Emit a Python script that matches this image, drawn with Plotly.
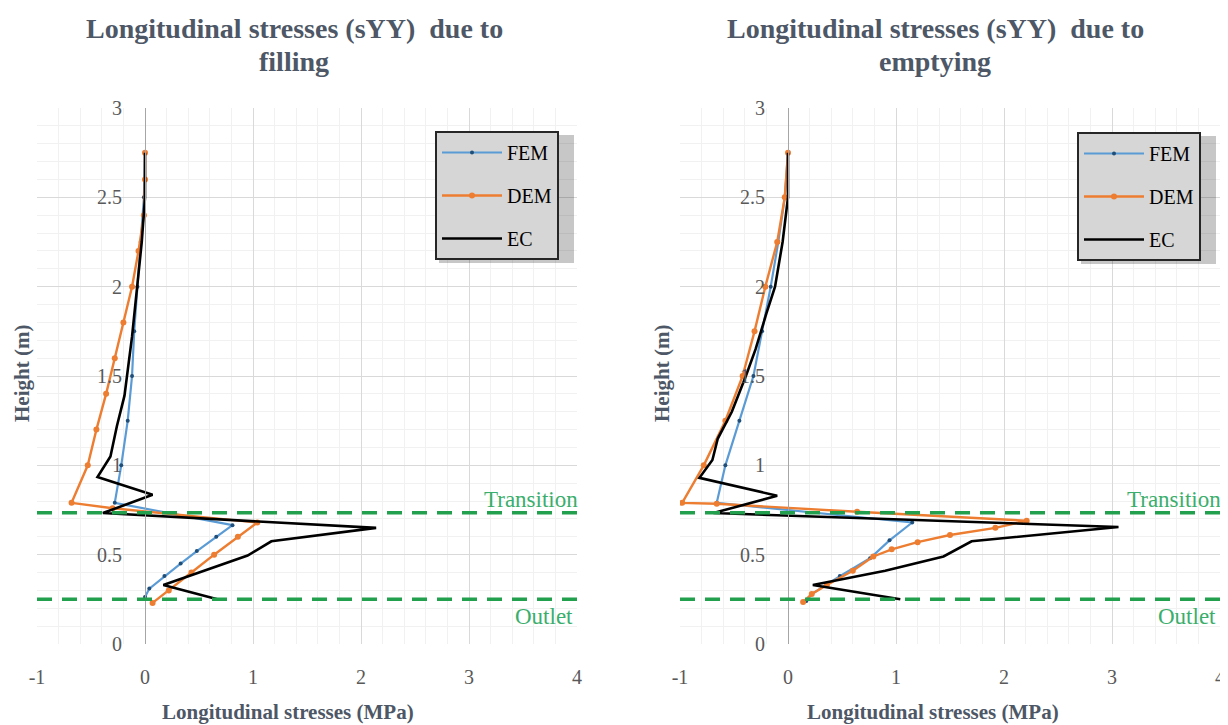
import plotly.graph_objects as go

# ---------------- data ----------------
# Filling (left)
fem_fill_y = [2.75, 2.5, 2.25, 2.0, 1.75, 1.5, 1.25, 1.0, 0.79, 0.665, 0.6, 0.52, 0.45, 0.38, 0.31, 0.263]
fem_fill_x = [0.0, -0.01, -0.04, -0.07, -0.10, -0.12, -0.16, -0.22, -0.28, 0.81, 0.66, 0.48, 0.33, 0.18, 0.04, 0.0]

dem_fill_y = [2.75, 2.6, 2.4, 2.2, 2.0, 1.8, 1.6, 1.4, 1.2, 1.0, 0.79, 0.76, 0.68, 0.6, 0.5, 0.4, 0.3, 0.23]
dem_fill_x = [0.0, 0.0, -0.01, -0.06, -0.12, -0.20, -0.28, -0.36, -0.45, -0.53, -0.68, -0.30, 1.04, 0.86, 0.64, 0.43, 0.22, 0.07]

ec_fill_y = [2.75, 2.5, 2.25, 2.0, 1.72, 1.39, 1.22, 1.05, 0.935, 0.835, 0.733, 0.65, 0.575, 0.495, 0.33, 0.25]
ec_fill_x = [0.0, 0.0, -0.03, -0.07, -0.12, -0.19, -0.26, -0.32, -0.44, 0.07, -0.39, 2.14, 1.17, 0.95, 0.17, 0.67]

# Emptying (right)
fem_emp_y = [2.75, 2.5, 2.25, 2.0, 1.75, 1.5, 1.25, 1.0, 0.79, 0.68, 0.58, 0.48, 0.38, 0.28, 0.24]
fem_emp_x = [0.0, -0.03, -0.09, -0.16, -0.24, -0.32, -0.45, -0.58, -0.66, 1.15, 0.94, 0.76, 0.48, 0.22, 0.17]

dem_emp_y = [2.75, 2.5, 2.25, 2.0, 1.75, 1.5, 1.25, 1.0, 0.79, 0.785, 0.74, 0.69, 0.65, 0.61, 0.57, 0.53, 0.49, 0.41, 0.33, 0.28, 0.235]
dem_emp_x = [0.0, -0.03, -0.10, -0.21, -0.31, -0.42, -0.58, -0.78, -0.98, -0.66, 0.64, 2.21, 1.92, 1.50, 1.20, 0.96, 0.79, 0.60, 0.36, 0.22, 0.14]

ec_emp_y = [2.75, 2.5, 2.25, 2.0, 1.85, 1.65, 1.5, 1.3, 1.15, 1.03, 0.93, 0.83, 0.733, 0.655, 0.575, 0.49, 0.41, 0.33, 0.25]
ec_emp_x = [0.0, 0.0, -0.05, -0.12, -0.20, -0.30, -0.39, -0.52, -0.65, -0.70, -0.82, -0.10, -0.69, 3.06, 1.70, 1.44, 0.90, 0.23, 1.04]

transition_h = 0.735
outlet_h = 0.25

x_ticks = [-1, 0, 1, 2, 3, 4]
x_tick_text = ["-1", "0", "1", "2", "3", "4"]
y_ticks = [0, 0.5, 1, 1.5, 2, 2.5, 3]
y_tick_text = ["0", "0.5", "1", "1.5", "2", "2.5", "3"]

title_line1 = "Longitudinal stresses (sYY)  due to"
title_line2 = ["filling", "emptying"]
x_title = "Longitudinal stresses (MPa)"
y_title = "Height (m)"

# ---------------- style ----------------
W, H = 1228, 725
OFF = 8  # page body margin offset
SERIF = "Liberation Serif, Times New Roman, serif"
FEM_LINE = "#5b9bd5"
FEM_MARK = "#1f4e79"
DEM_COL = "#ed7d31"
EC_COL = "#000000"
GREEN_LINE = "#22a04e"
GREEN_TEXT = "#3aae6c"
TITLE_COL = "#4d5766"
TICK_COL = "#595959"


def px_x(p):
    return (p - OFF) / W


def px_y(p):
    return 1 - (p - OFF) / H


left_dom = [px_x(37), px_x(577)]
right_dom = [px_x(680), px_x(1220)]
y_dom = [px_y(644), px_y(108)]

fig = go.Figure()

panels = [
    ("x", "y", fem_fill_x, fem_fill_y, dem_fill_x, dem_fill_y, ec_fill_x, ec_fill_y, "legend"),
    ("x2", "y2", fem_emp_x, fem_emp_y, dem_emp_x, dem_emp_y, ec_emp_x, ec_emp_y, "legend2"),
]

for xa, ya, fx, fy, dx, dy, ex, ey, lg in panels:
    fig.add_trace(go.Scatter(x=fx, y=fy, xaxis=xa, yaxis=ya, name="FEM", mode="lines+markers",
                             line=dict(color=FEM_LINE, width=2.2),
                             marker=dict(color=FEM_MARK, size=4),
                             legend=lg, legendgroup="fem" + xa))
    fig.add_trace(go.Scatter(x=dx, y=dy, xaxis=xa, yaxis=ya, name="DEM", mode="lines+markers",
                             line=dict(color=DEM_COL, width=2.4),
                             marker=dict(color=DEM_COL, size=6),
                             legend=lg, legendgroup="dem" + xa))
    fig.add_trace(go.Scatter(x=ex, y=ey, xaxis=xa, yaxis=ya, name="EC", mode="lines",
                             line=dict(color=EC_COL, width=2.6),
                             legend=lg, legendgroup="ec" + xa))


def xaxis_cfg(dom, anchor):
    return dict(domain=dom, anchor=anchor, range=[-1, 4], tickvals=x_ticks, ticktext=x_tick_text,
                showgrid=True, gridcolor="#d9d9d9", gridwidth=1,
                minor=dict(dtick=0.2, showgrid=True, gridcolor="#f1f1f1"),
                zeroline=False, showline=False, ticks="", automargin=False,
                ticklabelstandoff=19,
                tickfont=dict(family=SERIF, size=20, color=TICK_COL))


def yaxis_cfg(pos):
    return dict(domain=y_dom, anchor="free", position=pos, range=[0, 3],
                tickvals=y_ticks, ticktext=y_tick_text,
                showgrid=True, gridcolor="#d9d9d9", gridwidth=1,
                minor=dict(dtick=0.1, showgrid=True, gridcolor="#f1f1f1"),
                zeroline=False, showline=True, linecolor="#a6a6a6", linewidth=1,
                ticks="", ticklabelstandoff=19, automargin=False,
                tickfont=dict(family=SERIF, size=20, color=TICK_COL))


# y-axis sits at x = 0 of each panel
pos_left = left_dom[0] + (0 - (-1)) / 5 * (left_dom[1] - left_dom[0])
pos_right = right_dom[0] + (0 - (-1)) / 5 * (right_dom[1] - right_dom[0])

legend_common = dict(bgcolor="#d6d6d6", bordercolor="#262626", borderwidth=2,
                     font=dict(family=SERIF, size=20, color="#000000"),
                     itemwidth=60, tracegroupgap=14, xanchor="left", yanchor="top",
                     traceorder="grouped")

fig.update_layout(
    width=W, height=H,
    margin=dict(l=0, r=0, t=0, b=0, autoexpand=False),
    paper_bgcolor="white", plot_bgcolor="white",
    xaxis=xaxis_cfg(left_dom, "y"),
    yaxis=yaxis_cfg(pos_left),
    xaxis2=xaxis_cfg(right_dom, "y2"),
    yaxis2=yaxis_cfg(pos_right),
    legend=dict(x=px_x(435), y=px_y(131), **legend_common),
    legend2=dict(x=px_x(1077), y=px_y(132), **legend_common),
    showlegend=True,
)

shapes = []
annotations = []
# legend drop shadows
for (lx0, ly0) in [(435, 131), (1077, 132)]:
    shapes.append(dict(type="rect", xref="paper", yref="paper",
                       x0=px_x(lx0 + 4), x1=px_x(lx0 + 139), y0=px_y(ly0 + 132), y1=px_y(ly0 + 4),
                       fillcolor="rgba(0,0,0,0.22)", line=dict(width=0), layer="above"))

title_cx = [294, 935]
xtitle_cx = [288, 933]
for i, xref in enumerate(["x", "x2"]):
    yref = "y" if i == 0 else "y2"
    for h in (transition_h, outlet_h):
        shapes.append(dict(type="line", xref=xref + " domain", yref=yref,
                           x0=0, x1=1, y0=h, y1=h,
                           line=dict(color=GREEN_LINE, width=3.5, dash="15px,10px"),
                           layer="above"))
    annotations.append(dict(text="Transition", xref=xref + " domain", yref=yref,
                            x=1, y=transition_h, xanchor="right", yanchor="middle",
                            yshift=13, xshift=3, showarrow=False,
                            font=dict(family=SERIF, size=23, color=GREEN_TEXT)))
    annotations.append(dict(text="Outlet", xref=xref + " domain", yref=yref,
                            x=1, y=outlet_h, xanchor="right", yanchor="middle",
                            yshift=-17, xshift=-2, showarrow=False,
                            font=dict(family=SERIF, size=23, color=GREEN_TEXT)))
    annotations.append(dict(text="<b>" + title_line1 + "</b>", xref="paper", yref="paper",
                            x=px_x(title_cx[i]), y=px_y(28), xanchor="center", yanchor="middle",
                            showarrow=False,
                            font=dict(family=SERIF, size=28, color=TITLE_COL)))
    annotations.append(dict(text="<b>" + title_line2[i] + "</b>", xref="paper", yref="paper",
                            x=px_x(title_cx[i]), y=px_y(62), xanchor="center", yanchor="middle",
                            showarrow=False,
                            font=dict(family=SERIF, size=28, color=TITLE_COL)))
    annotations.append(dict(text="<b>" + x_title + "</b>", xref="paper", yref="paper",
                            x=px_x(xtitle_cx[i]), y=px_y(712), xanchor="center", yanchor="middle",
                            showarrow=False,
                            font=dict(family=SERIF, size=21, color=TITLE_COL)))
    annotations.append(dict(text="<b>" + y_title + "</b>", xref="paper", yref="paper",
                            x=px_x(22 if i == 0 else 662), y=px_y(374),
                            xanchor="center", yanchor="middle", textangle=-90,
                            showarrow=False,
                            font=dict(family=SERIF, size=21, color=TITLE_COL)))

fig.update_layout(shapes=shapes, annotations=annotations)

fig.write_html("out.html")
